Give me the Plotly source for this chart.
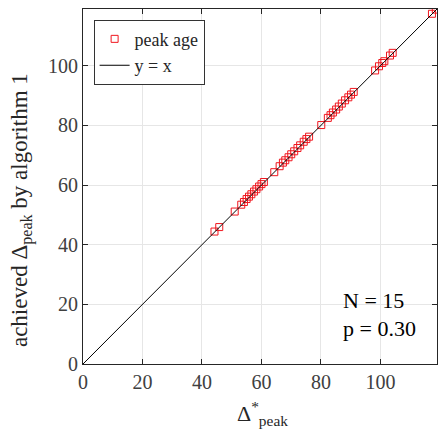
import plotly.graph_objects as go

# target peak age and the peak age reached by algorithm 1
target_peak = [44.2, 45.8, 51.0, 53.2, 54.1, 55.0, 55.8, 56.6, 57.5, 58.3, 59.2, 60.0, 60.8,
               64.3, 66.1, 67.2, 68.0, 69.1, 70.0, 71.0, 72.1, 73.0, 74.2, 75.1, 76.0,
               80.1, 82.3, 83.2, 84.0, 85.1, 86.0, 87.0, 88.1, 89.2, 90.1, 91.0,
               98.2, 99.5, 100.6, 101.3, 103.2, 104.1, 117.3, 118.6]
achieved_peak = [44.4, 45.9, 51.1, 53.4, 54.3, 55.3, 56.1, 56.9, 57.8, 58.6, 59.5, 60.3, 61.0,
                 64.3, 66.3, 67.5, 68.3, 69.3, 70.3, 71.3, 72.4, 73.3, 74.5, 75.4, 76.2,
                 80.1, 82.5, 83.4, 84.3, 85.3, 86.3, 87.3, 88.4, 89.4, 90.3, 91.2,
                 98.4, 99.8, 100.9, 101.5, 103.4, 104.3, 117.4, 118.8]
diag = [0, 119]
x_ticks = [0, 20, 40, 60, 80, 100]
stats_text = ["N = 15", "p = 0.30"]
x_title = "Δ<sup>*</sup><sub>peak</sub>"
y_title = "achieved Δ<sub>peak</sub> by algorithm 1"

FONT = "Liberation Serif"
AXIS_COL = "#262626"

fig = go.Figure()
fig.add_trace(go.Scatter(
    x=target_peak, y=achieved_peak, mode="markers", name="peak age",
    marker=dict(symbol="square-open", size=7, color="#f0161e", line=dict(width=1)),
))
fig.add_trace(go.Scatter(
    x=diag, y=diag, mode="lines", name="y = x",
    line=dict(color="black", width=1),
))

axis_common = dict(
    range=[0, 119], tickvals=x_ticks, showgrid=True, gridcolor="#e6e6e6", gridwidth=1,
    zeroline=False, showline=True, linecolor=AXIS_COL, linewidth=1, mirror="ticks",
    ticks="inside", ticklen=5, tickcolor=AXIS_COL,
    tickfont=dict(family=FONT, size=20, color="#404040"),
)

fig.update_layout(
    width=439, height=437,
    margin=dict(l=83, r=2, t=9, b=73),
    plot_bgcolor="white", paper_bgcolor="white",
    font=dict(family=FONT, size=20, color=AXIS_COL),
    xaxis=axis_common,
    yaxis=axis_common,
    legend=dict(x=0.03, y=0.97, xanchor="left", yanchor="top",
                bgcolor="white", bordercolor="#333333", borderwidth=1,
                font=dict(family=FONT, size=18, color=AXIS_COL),
                tracegroupgap=0, itemwidth=30),
    showlegend=True,
)

# axis titles placed as annotations so the sub/superscripts sit where wanted
fig.add_annotation(x=0.508, y=-0.14, xref="paper", yref="paper",
                   xanchor="center", yanchor="middle", text=x_title, showarrow=False,
                   font=dict(family=FONT, size=22, color=AXIS_COL))
fig.add_annotation(x=-0.172, y=0.434, xref="paper", yref="paper",
                   xanchor="center", yanchor="middle", text=y_title, showarrow=False,
                   textangle=-90, font=dict(family=FONT, size=23, color=AXIS_COL))

for i, t in enumerate(stats_text):
    fig.add_annotation(x=0.73, y=0.18 - i * 0.08, xref="paper", yref="paper",
                       xanchor="left", yanchor="middle", text=t, showarrow=False,
                       font=dict(family=FONT, size=22, color="black"))

fig.write_html("out.html")
